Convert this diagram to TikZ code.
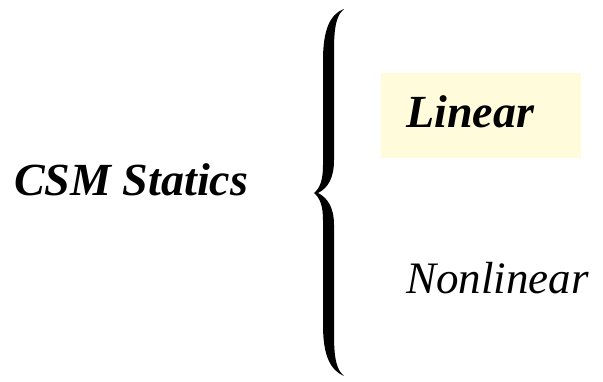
\documentclass[tikz,border=0pt]{standalone}
\usepackage{fontspec}
\setmainfont{Liberation Serif}
\definecolor{paleyellow}{RGB}{255,251,219}
\begin{document}
\begin{tikzpicture}[x=1pt,y=-1pt,
  lbl/.style={inner sep=0pt,anchor=base west,font=\fontsize{45}{54}\selectfont},
  bi/.style={lbl,font=\fontsize{46}{55}\selectfont\bfseries\itshape},
  it/.style={lbl,font=\fontsize{45}{54}\selectfont\itshape}]
\useasboundingbox (0,0) rectangle (603,381);
\fill[paleyellow] (381,73) rectangle (581,158);
\node[bi] (csm) at (14,195) {CSM Statics};
\node[bi] (lin) at (406,127) {Linear};
\node[it] (nonlin) at (406,293) {Nonlinear};
\fill[black] (344,9) .. controls (330,14) and (323,30) .. (323,60) -- (323,165)
  .. controls (323,180) and (320,188) .. (314,193)
  .. controls (320,198) and (323,206) .. (323,220) -- (323,325)
  .. controls (323,355) and (330,370) .. (344,376)
  .. controls (337,370) and (334,360) .. (334,335) -- (334,225)
  .. controls (334,208) and (328,198) .. (318,193)
  .. controls (328,188) and (334,178) .. (334,160) -- (334,50)
  .. controls (334,25) and (337,15) .. (344,9) -- cycle;
\end{tikzpicture}
\end{document}
